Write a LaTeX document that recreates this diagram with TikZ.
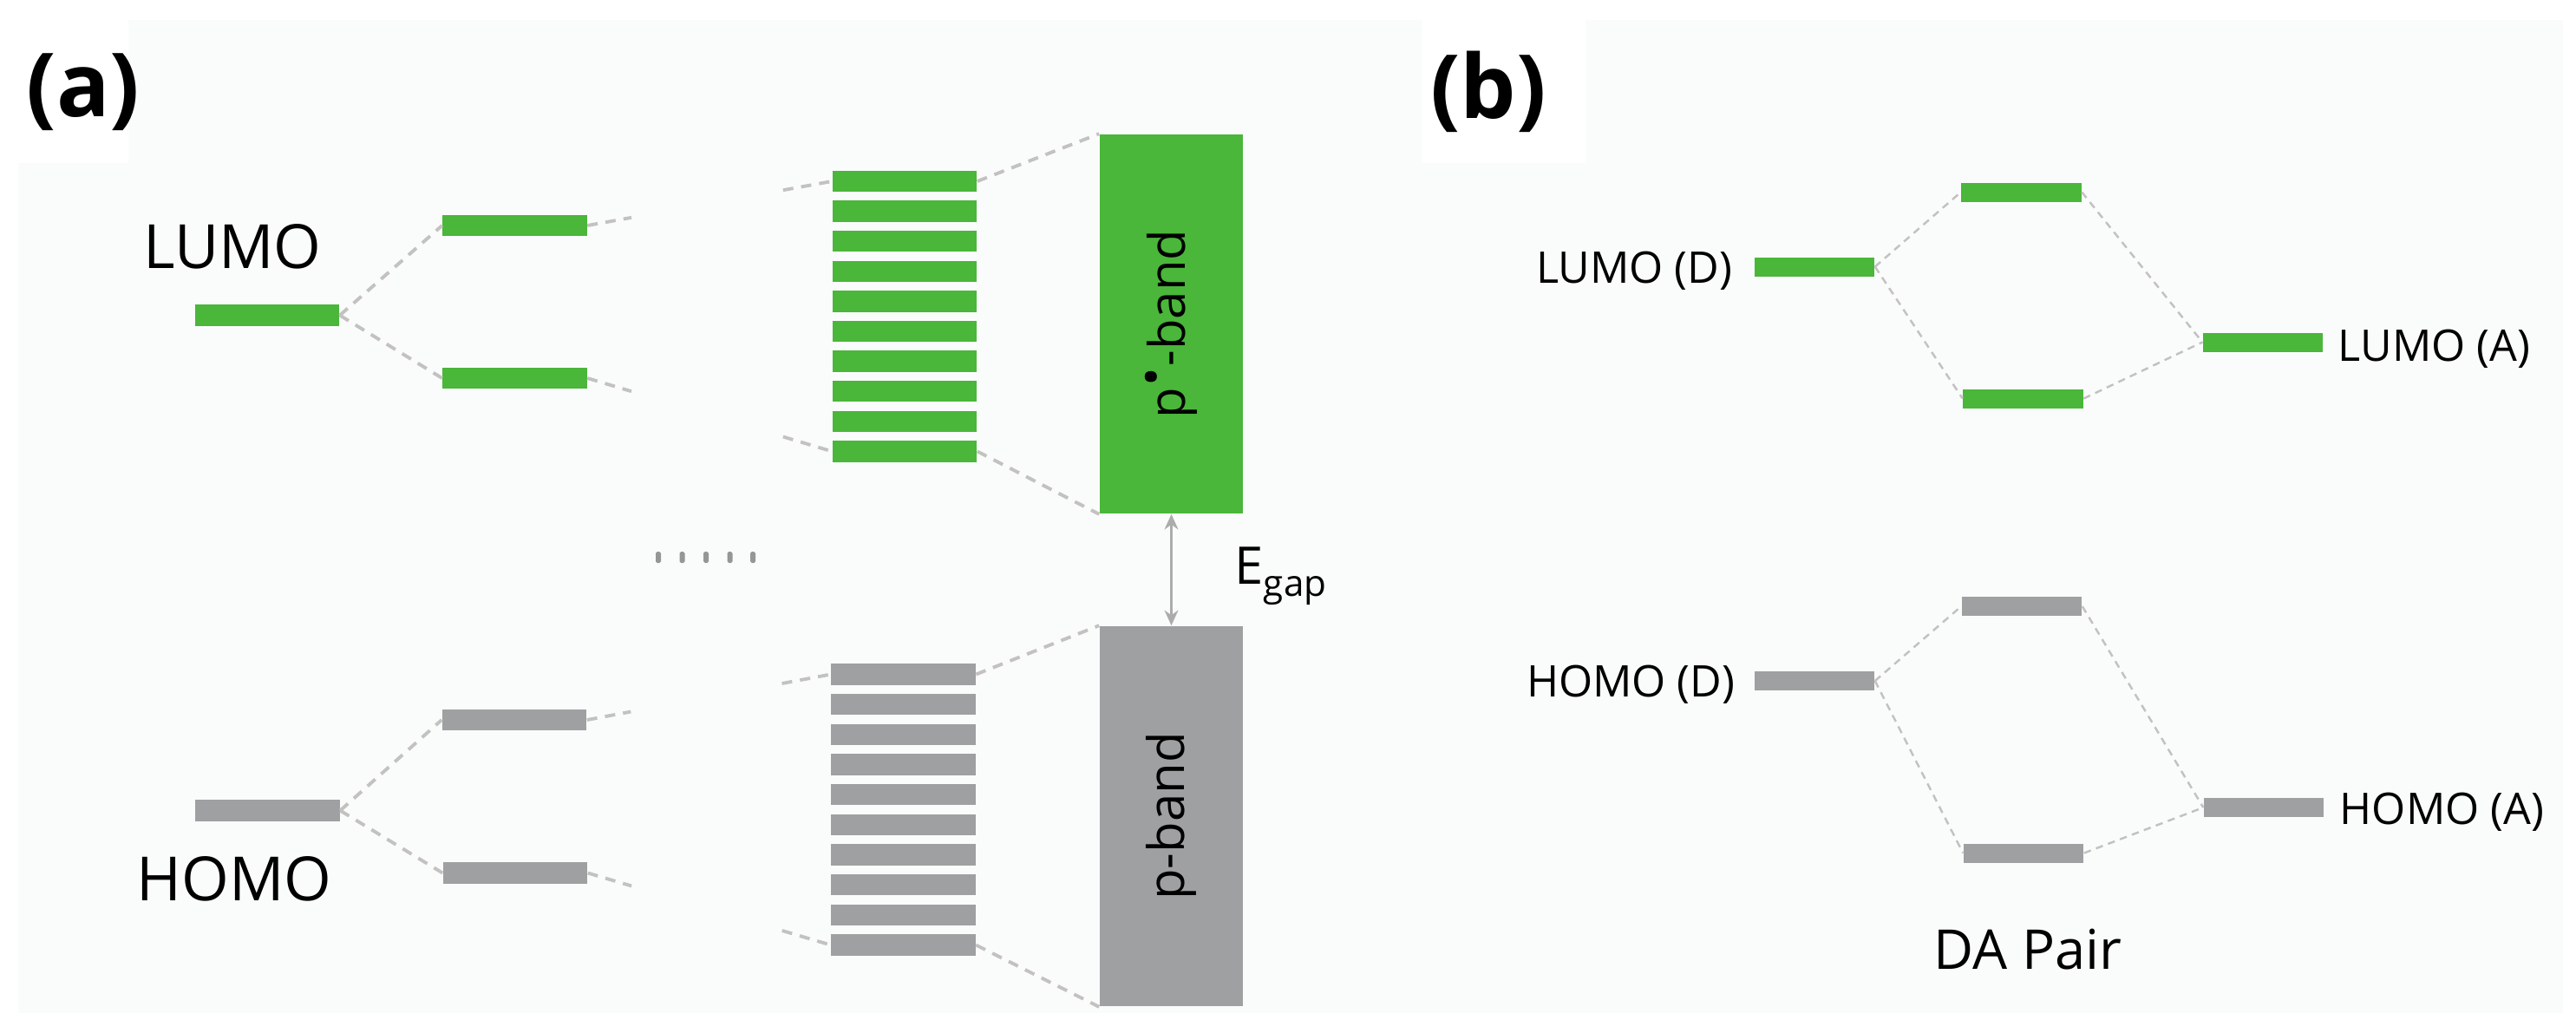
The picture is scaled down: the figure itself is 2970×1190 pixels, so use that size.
\documentclass[tikz,border=0pt]{standalone}
\usepackage{fontspec}
\setmainfont{Open Sans}
\usetikzlibrary{arrows.meta,calc}
\definecolor{bargreen}{RGB}{74,182,58}
\definecolor{bargray}{RGB}{158,160,161}
\definecolor{dashgray}{RGB}{196,193,193}
\definecolor{bglight}{RGB}{250,252,252}
\definecolor{arrgray}{RGB}{172,172,172}
\definecolor{dotgray}{RGB}{150,150,150}
\begin{document}
\begin{tikzpicture}[x=0.01cm,y=-0.01cm,
  gbar/.style={fill=bargreen,draw=none,inner sep=0pt,minimum width=1.66cm,minimum height=0.245cm},
  ybar/.style={fill=bargray,draw=none,inner sep=0pt,minimum width=1.66cm,minimum height=0.245cm},
  gsmall/.style={fill=bargreen,draw=none,inner sep=0pt,minimum width=1.38cm,minimum height=0.22cm},
  ysmall/.style={fill=bargray,draw=none,inner sep=0pt,minimum width=1.38cm,minimum height=0.22cm},
  bandbox/.style={draw=none,inner sep=0pt,minimum width=1.65cm,minimum height=4.37cm},
  dashA/.style={draw=dashgray,line width=1.1pt,dash pattern=on 3.4pt off 2.6pt},
  dashB/.style={draw=dashgray,line width=0.7pt,dash pattern=on 2.4pt off 1.8pt},
  panellab/.style={inner sep=0pt,font=\bfseries\fontsize{29}{33}\selectfont},
  biglab/.style={inner sep=0pt,font=\fontsize{20}{24}\selectfont},
  bandlab/.style={inner sep=0pt,rotate=90,font=\fontsize{16.5}{20}\selectfont},
  smalllab/.style={inner sep=0pt,font=\fontsize{14.3}{17}\selectfont},
  gapdot/.style={fill=dotgray,draw=none,rounded corners=0.5pt}]
\useasboundingbox (0,0) rectangle (2970,1190);
% background
\fill[white] (0,0) rectangle (2970,1190);
\fill[bglight] (21,23) rectangle (2955,1168);
\fill[white] (0,0) rectangle (148,188);
\fill[white] (1640,23) rectangle (1828,188);

% ---------- panel (a) ----------
\node[panellab] (la) at (96,106) {(a)};
\node[biglab] (tlumo) at (268,284) {LUMO};
\node[biglab] (thomo) at (270,1013) {HOMO};

\node[gbar] (L0) at (308,363.5) {};
\node[gbar] (L1) at (593.5,260) {};
\node[gbar] (L2) at (593.5,436) {};
\node[ybar] (H0) at (308.5,934.5) {};
\node[ybar] (H1) at (593,830) {};
\node[ybar] (H2) at (594,1006.5) {};

\foreach \k in {0,...,9} {
  \node[gbar] (gs\k) at (1043,{209+34.6*\k}) {};
  \node[ybar] (ys\k) at (1041.5,{777.5+34.67*\k}) {};
}

\node[bandbox,fill=bargreen] (pstar) at (1350.5,373.5) {};
\node[bandbox,fill=bargray,minimum height=4.38cm] (pband) at (1350.5,941) {};
\node[bandlab] (tpstar) at (pstar.center) {p\kern0.02em\raisebox{0.3em}{•}\kern0.02em-band};
\node[bandlab] (tpband) at (pband.center) {p-band};

% dashed connectors (a)
\draw[dashA] (L0.east) -- (L1.west);
\draw[dashA] (L0.east) -- (L2.west);
\draw[dashA] (H0.east) -- (H1.west);
\draw[dashA] (H0.east) -- (H2.west);
\draw[dashA] (L1.east) -- ($(L1.east)!0.18!(gs0.west)$);
\draw[dashA] ($(L1.east)!0.8!(gs0.west)$) -- (gs0.west);
\draw[dashA] (L2.east) -- ($(L2.east)!0.18!(gs9.west)$);
\draw[dashA] ($(L2.east)!0.8!(gs9.west)$) -- (gs9.west);
\draw[dashA] (H1.east) -- ($(H1.east)!0.18!(ys0.west)$);
\draw[dashA] ($(H1.east)!0.8!(ys0.west)$) -- (ys0.west);
\draw[dashA] (H2.east) -- ($(H2.east)!0.18!(ys9.west)$);
\draw[dashA] ($(H2.east)!0.8!(ys9.west)$) -- (ys9.west);
\draw[dashA] (gs0.east) -- (pstar.north west);
\draw[dashA] (gs9.east) -- (pstar.south west);
\draw[dashA] (ys0.east) -- (pband.north west);
\draw[dashA] (ys9.east) -- (pband.south west);

% dots
\foreach \xx in {759,786.5,814,841.5,868} {
  \fill[gapdot] (\xx-3,636) rectangle (\xx+3,649);
}

% gap arrow
\draw[arrgray,line width=1.1pt,{Stealth[length=5pt,width=4.5pt]}-{Stealth[length=5pt,width=4.5pt]}] (pstar.south) -- (pband.north);
\node[inner sep=0pt,anchor=base west,font=\fontsize{17}{20}\selectfont] (egap) at (1423,673) {E\raisebox{-4pt}{\fontsize{12}{14}\selectfont gap}};

% ---------- panel (b) ----------
\node[panellab] (lb) at (1716,106) {(b)};

\node[gsmall] (LD) at (2092,307.5) {};
\node[gsmall] (LU) at (2330.5,221.5) {};
\node[gsmall] (LL) at (2332.5,459.5) {};
\node[gsmall] (LA) at (2609,394.5) {};
\node[ysmall] (HD) at (2092,785) {};
\node[ysmall] (HU) at (2331,699) {};
\node[ysmall] (HL) at (2333,983.5) {};
\node[ysmall] (HA) at (2610,931) {};

\node[smalllab,anchor=base east] (tLD) at (1998,326) {LUMO (D)};
\node[smalllab,anchor=base west] (tLA) at (2695,416) {LUMO (A)};
\node[smalllab,anchor=base east] (tHD) at (2001,803) {HOMO (D)};
\node[smalllab,anchor=base west] (tHA) at (2697,950) {HOMO (A)};
\node[inner sep=0pt,anchor=base,font=\fontsize{18}{22}\selectfont] (tda) at (2338,1117) {DA Pair};

\draw[dashB] (LD.east) -- (LU.west);
\draw[dashB] (LD.east) -- (LL.west);
\draw[dashB] (LU.east) -- (LA.west);
\draw[dashB] (LL.east) -- (LA.west);
\draw[dashB] (HD.east) -- (HU.west);
\draw[dashB] (HD.east) -- (HL.west);
\draw[dashB] (HU.east) -- (HA.west);
\draw[dashB] (HL.east) -- (HA.west);
\end{tikzpicture}
\end{document}
